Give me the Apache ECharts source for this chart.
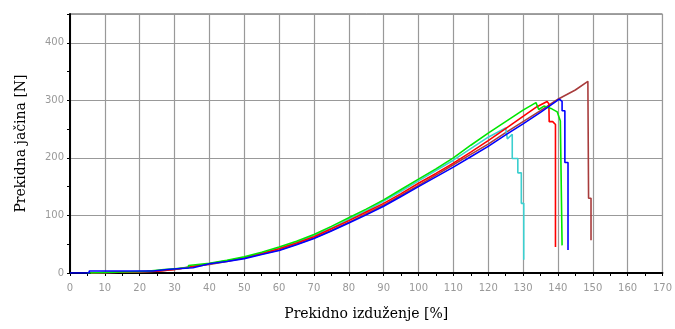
<!DOCTYPE html>
<html>
<head>
<meta charset="utf-8">
<script src="https://cdn.jsdelivr.net/npm/echarts@6/dist/echarts.min.js"></script>
<style>
  html, body { margin: 0; padding: 0; background: #fff; }
  #chart { width: 675px; height: 329px; }
</style>
</head>
<body>
<div id="chart"></div>
<script>
// elongation [%] / breaking force [N] per specimen
const blueX = [0, 5.5, 5.5, 23.8, 23.8, 28.6, 28.6, 35.3, 35.3, 40, 45, 50, 55, 60, 65, 70, 75, 80, 85, 90, 95, 100, 105, 110, 115, 120, 125, 130, 135, 140.4, 141.2, 141.2, 142, 142, 142.9, 142.9];
const blueY = [0, 0, 3.5, 3.5, 6.5, 6.5, 9, 9, 12, 16, 20, 25, 32, 39, 49, 60, 73, 87, 101, 116, 133, 150, 167, 184, 202, 220, 240, 259, 279, 302, 298, 282, 282, 192, 192, 40];

const greenX = [5, 5, 22, 22, 27, 27, 34, 34, 40, 45, 50, 55, 60, 65, 70, 75, 80, 85, 90, 95, 100, 105, 110, 115, 120, 125, 130, 133.7, 134.5, 136, 138, 139.8, 140.7, 141.2, 141.2];
const greenY = [0, 3, 3, 6, 6, 9, 9, 13, 17, 22, 28, 36, 45, 55, 67, 81, 96, 111, 127, 145, 163, 181, 200, 222, 243, 263, 283, 296, 284, 290, 286, 280, 264, 264, 48];

const redX = [6, 6, 25, 25, 30, 30, 36, 40, 45, 50, 55, 60, 65, 70, 75, 80, 85, 90, 95, 100, 105, 110, 115, 120, 125, 130, 134, 136.9, 137.4, 137.5, 138.5, 139.3, 139.3];
const redY = [0, 3, 3, 6, 6, 9, 12, 16, 21, 27, 34, 42, 52, 63, 77, 91, 106, 121, 138, 156, 173, 191, 210, 230, 251, 272, 289, 298, 294, 263, 263, 258, 45];

const cyanX = [6, 6, 24, 24, 29, 29, 36, 40, 45, 50, 55, 60, 65, 70, 75, 80, 85, 90, 95, 100, 105, 110, 115, 120, 125, 125.5, 126.9, 126.9, 128.5, 128.5, 129.5, 129.5, 130.2, 130.2];
const cyanY = [0, 3, 3, 6, 6, 9, 12, 16, 21, 27, 34, 43, 53, 65, 78, 93, 108, 125, 142, 160, 178, 196, 216, 236, 252, 233, 241, 199, 199, 174, 174, 121, 121, 23];

const brownX = [6, 6, 25, 25, 30, 30, 35, 40, 45, 50, 55, 60, 65, 70, 75, 80, 85, 90, 95, 100, 105, 110, 115, 120, 125, 130, 135, 140, 145, 148.6, 148.8, 149.5, 149.5];
const brownY = [0, 3, 3, 6, 6, 9, 11, 15, 20, 26, 33, 40, 50, 61, 74, 88, 103, 118, 135, 152, 170, 188, 206, 224, 244, 263, 282, 302, 318, 333, 130, 130, 57];

const xTicks = [0, 170, 10];
const yTicks = [0, 450, 100];

function pairs(xs, ys) {
  return xs.map((x, i) => [x, ys[i]]);
}

function line(name, xs, ys, color) {
  return {
    name: name,
    type: 'line',
    data: pairs(xs, ys),
    showSymbol: false,
    lineStyle: { color: color, width: 1.6 },
    silent: true,
  };
}

const chart = echarts.init(document.getElementById('chart'));
chart.setOption({
  animation: false,
  backgroundColor: '#fff',
  grid: {
    left: 70, right: 11, top: 14, bottom: 56,
    show: true, borderColor: '#444', borderWidth: 1,
  },
  xAxis: {
    type: 'value',
    min: xTicks[0], max: xTicks[1], interval: xTicks[2],
    name: 'Prekidno izduženje [%]',
    nameLocation: 'middle',
    nameGap: 34,
    nameTextStyle: { fontFamily: 'DejaVu Serif', fontSize: 14, color: '#000' },
    axisLine: { lineStyle: { color: '#000', width: 2 } },
    axisTick: { lineStyle: { color: '#000' }, length: 3 },
    minorTick: { show: true, splitNumber: 2, length: 3, lineStyle: { color: '#000' } },
    axisLabel: { color: '#999', fontFamily: 'DejaVu Sans', fontSize: 10, margin: 10 },
    splitLine: { lineStyle: { color: '#999', width: 1.2 } },
  },
  yAxis: {
    type: 'value',
    min: yTicks[0], max: yTicks[1], interval: yTicks[2],
    name: 'Prekidna jačina [N]',
    nameLocation: 'middle',
    nameGap: 42,
    nameRotate: 90,
    nameTextStyle: { fontFamily: 'DejaVu Serif', fontSize: 14, color: '#000' },
    axisLine: { show: true, lineStyle: { color: '#000', width: 2 } },
    axisTick: { show: true, lineStyle: { color: '#000' }, length: 3 },
    minorTick: { show: true, splitNumber: 2, length: 3, lineStyle: { color: '#000' } },
    axisLabel: {
      color: '#999', fontFamily: 'DejaVu Sans', fontSize: 10, margin: 6,
      showMaxLabel: false,
    },
    splitLine: { lineStyle: { color: '#999', width: 1.2 } },
  },
  series: [
    line('brown', brownX, brownY, '#a83c3c'),
    line('cyan', cyanX, cyanY, '#3ccfcf'),
    line('red', redX, redY, '#ff0000'),
    line('green', greenX, greenY, '#00e600'),
    line('blue', blueX, blueY, '#0000ff'),
  ],
});
</script>
</body>
</html>
